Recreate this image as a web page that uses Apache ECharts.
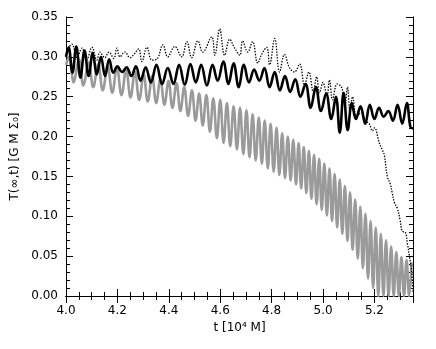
<!DOCTYPE html>
<html>
<head>
<meta charset="utf-8">
<script src="https://cdn.jsdelivr.net/npm/echarts@6/dist/echarts.min.js"></script>
<style>
html,body{margin:0;padding:0;background:#fff}
#chart{width:436px;height:349px}
</style>
</head>
<body>
<div id="chart"></div>
<script>
// time in units of 10^4 M, torque in G M Sigma_0
var xTicks = [4.0, 4.2, 4.4, 4.6, 4.8, 5.0, 5.2];
var yTicks = [0.00, 0.05, 0.10, 0.15, 0.20, 0.25, 0.30, 0.35];

var blackCurve = [
  [4.000,0.300],[4.010,0.312],[4.025,0.280],[4.040,0.313],[4.056,0.274],[4.072,0.308],
  [4.088,0.276],[4.104,0.305],[4.120,0.278],[4.136,0.300],[4.152,0.276],[4.168,0.297],
  [4.184,0.280],[4.200,0.288],[4.218,0.281],[4.236,0.287],[4.254,0.276],[4.272,0.288],
  [4.290,0.270],[4.310,0.287],[4.330,0.268],[4.352,0.290],[4.374,0.266],[4.396,0.286],
  [4.418,0.266],[4.440,0.290],[4.462,0.265],[4.484,0.291],[4.505,0.268],[4.526,0.290],
  [4.548,0.264],[4.570,0.290],[4.590,0.270],[4.612,0.294],[4.632,0.266],[4.652,0.292],
  [4.672,0.262],[4.692,0.290],[4.712,0.268],[4.732,0.284],[4.752,0.270],[4.772,0.286],
  [4.792,0.262],[4.812,0.281],[4.832,0.258],[4.852,0.276],[4.872,0.256],[4.892,0.272],
  [4.912,0.250],[4.932,0.266],[4.952,0.236],[4.972,0.262],[4.992,0.232],[5.012,0.254],
  [5.032,0.222],[5.050,0.250],[5.065,0.205],[5.080,0.255],[5.096,0.208],[5.112,0.242],
  [5.128,0.222],[5.146,0.238],[5.164,0.216],[5.182,0.240],[5.200,0.222],[5.218,0.236],
  [5.236,0.225],[5.254,0.232],[5.272,0.220],[5.290,0.240],[5.308,0.216],[5.326,0.242],
  [5.340,0.212],[5.350,0.210]
];

var dottedCurve = [
  [4.000,0.300],[4.012,0.312],[4.023,0.316],[4.043,0.299],[4.062,0.311],[4.080,0.296],
  [4.101,0.312],[4.120,0.296],[4.132,0.306],[4.151,0.299],[4.167,0.306],[4.186,0.298],
  [4.198,0.311],[4.210,0.300],[4.229,0.306],[4.249,0.299],[4.264,0.303],[4.283,0.310],
  [4.295,0.294],[4.315,0.312],[4.334,0.296],[4.353,0.297],[4.377,0.315],[4.396,0.300],
  [4.423,0.313],[4.450,0.300],[4.470,0.319],[4.489,0.299],[4.513,0.320],[4.532,0.306],
  [4.567,0.325],[4.579,0.302],[4.598,0.335],[4.617,0.302],[4.637,0.322],[4.656,0.311],
  [4.676,0.302],[4.687,0.320],[4.707,0.306],[4.726,0.319],[4.746,0.292],[4.761,0.303],
  [4.781,0.312],[4.792,0.290],[4.812,0.323],[4.831,0.281],[4.850,0.303],[4.870,0.286],
  [4.889,0.281],[4.909,0.291],[4.928,0.265],[4.945,0.281],[4.962,0.256],[4.975,0.275],
  [4.986,0.255],[5.000,0.268],[5.015,0.250],[5.025,0.271],[5.037,0.246],[5.055,0.266],
  [5.072,0.262],[5.085,0.240],[5.095,0.262],[5.105,0.232],[5.115,0.250],[5.130,0.226],
  [5.150,0.230],[5.165,0.220],[5.180,0.216],[5.192,0.207],[5.200,0.211],[5.219,0.192],
  [5.231,0.183],[5.239,0.176],[5.250,0.150],[5.262,0.140],[5.270,0.128],[5.278,0.117],
  [5.289,0.110],[5.300,0.095],[5.309,0.081],[5.320,0.080],[5.328,0.066],[5.336,0.050],
  [5.344,0.033],[5.350,0.005]
];

var grayCurve = [
  [4.000,0.290],[4.012,0.300],[4.030,0.268],[4.050,0.297],[4.068,0.264],[4.088,0.293],
  [4.106,0.262],[4.125,0.291],[4.143,0.258],[4.162,0.288],[4.180,0.255],[4.198,0.287],
  [4.216,0.252],[4.234,0.284],[4.251,0.249],[4.268,0.281],[4.285,0.246],[4.302,0.278],
  [4.318,0.244],[4.335,0.276],[4.351,0.242],[4.367,0.272],[4.383,0.240],[4.399,0.270],
  [4.414,0.236],[4.430,0.267],[4.445,0.232],[4.460,0.262],[4.475,0.226],[4.490,0.258],
  [4.504,0.220],[4.518,0.254],[4.532,0.214],[4.546,0.252],[4.560,0.206],[4.573,0.248],
  [4.587,0.198],[4.600,0.246],[4.613,0.192],[4.626,0.242],[4.639,0.188],[4.652,0.238],
  [4.665,0.184],[4.677,0.236],[4.690,0.178],[4.702,0.233],[4.714,0.174],[4.726,0.228],
  [4.738,0.170],[4.750,0.224],[4.762,0.166],[4.773,0.220],[4.785,0.160],[4.796,0.216],
  [4.808,0.156],[4.819,0.211],[4.830,0.152],[4.841,0.204],[4.852,0.148],[4.863,0.200],
  [4.874,0.145],[4.884,0.196],[4.895,0.140],[4.905,0.192],[4.915,0.135],[4.925,0.187],
  [4.935,0.129],[4.945,0.182],[4.955,0.122],[4.965,0.177],[4.975,0.115],[4.985,0.172],
  [4.995,0.108],[5.005,0.166],[5.015,0.101],[5.025,0.160],[5.035,0.094],[5.045,0.153],
  [5.055,0.086],[5.065,0.146],[5.075,0.078],[5.085,0.138],[5.095,0.069],[5.105,0.130],
  [5.115,0.058],[5.125,0.121],[5.135,0.047],[5.145,0.112],[5.155,0.035],[5.165,0.103],
  [5.175,0.022],[5.185,0.094],[5.195,0.010],[5.205,0.086],[5.215,0.000],[5.225,0.078],
  [5.235,0.000],[5.245,0.070],[5.255,0.000],[5.265,0.062],[5.275,0.000],[5.285,0.055],
  [5.295,0.000],[5.305,0.049],[5.315,0.000],[5.325,0.045],[5.335,0.000],[5.345,0.042]
];

var fontFam = 'DejaVu Sans, sans-serif';

function xAx(pos, interval, len, labels) {
  var ax = {
    type: 'value', position: pos, min: 4.0, max: 5.35, interval: interval,
    axisLine: {show: true, lineStyle: {color: '#000', width: 1}},
    axisTick: {show: true, inside: true, length: len, lineStyle: {color: '#000', width: 1}},
    axisLabel: {show: false},
    splitLine: {show: false}
  };
  if (labels) {
    ax.axisLabel = {
      show: true, fontSize: 12, color: '#000', fontFamily: fontFam, margin: 9,
      showMaxLabel: false,
      formatter: function (v) { return xTicks.indexOf(+v.toFixed(1)) >= 0 ? v.toFixed(1) : ''; }
    };
    ax.name = 't [10\u2074 M]';
    ax.nameLocation = 'middle';
    ax.nameGap = 23;
    ax.nameTextStyle = {fontSize: 12, color: '#000', fontFamily: fontFam};
  }
  return ax;
}

function yAx(pos, interval, len, labels) {
  var ax = {
    type: 'value', position: pos, min: 0, max: 0.35, interval: interval,
    axisLine: {show: true, lineStyle: {color: '#000', width: 1}},
    axisTick: {show: true, inside: true, length: len, lineStyle: {color: '#000', width: 1}},
    axisLabel: {show: false},
    splitLine: {show: false}
  };
  if (labels) {
    ax.axisLabel = {
      show: true, fontSize: 12, color: '#000', fontFamily: fontFam, margin: 8,
      formatter: function (v) { return yTicks.indexOf(+v.toFixed(2)) >= 0 ? v.toFixed(2) : ''; }
    };
    ax.name = 'T(\u221e,t) [G M \u03a3\u2080]';
    ax.nameLocation = 'middle';
    ax.nameGap = 38;
    ax.nameRotate = 90;
    ax.nameTextStyle = {fontSize: 12, color: '#000', fontFamily: fontFam};
  }
  return ax;
}

var myChart = echarts.init(document.getElementById('chart'));
var option = {
  animation: false,
  backgroundColor: '#fff',
  grid: {left: 66, right: 23, top: 17, bottom: 53, containLabel: false, outerBoundsMode: 'none'},
  xAxis: [
    xAx('bottom', 0.2, 7, true),
    xAx('bottom', 0.05, 4, false),
    xAx('top', 0.2, 7, false),
    xAx('top', 0.05, 4, false)
  ],
  yAxis: [
    yAx('left', 0.05, 7, true),
    yAx('left', 0.01, 4, false),
    yAx('right', 0.05, 7, false),
    yAx('right', 0.01, 4, false)
  ],
  series: [
    {
      name: 'gray', type: 'line', data: grayCurve, showSymbol: false, symbol: 'none',
      smooth: 0.4, z: 2,
      lineStyle: {color: '#9a9a9a', width: 2.6}
    },
    {
      name: 'black', type: 'line', data: blackCurve, showSymbol: false, symbol: 'none',
      smooth: 0.4, z: 3,
      lineStyle: {color: '#000', width: 2.6}
    },
    {
      name: 'dotted', type: 'line', data: dottedCurve, showSymbol: false, symbol: 'none',
      smooth: 0.4, z: 4,
      lineStyle: {color: '#000', width: 1.3, type: [1.4, 1.4]}
    }
  ]
};
myChart.setOption(option);
</script>
</body>
</html>
